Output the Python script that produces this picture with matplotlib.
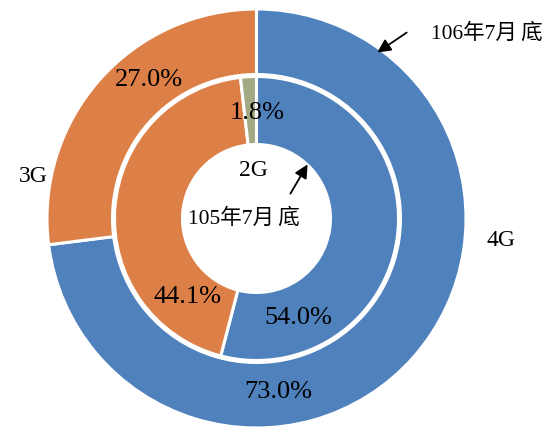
import matplotlib
matplotlib.use('Agg')
import matplotlib.pyplot as plt

# 106年7月底 (outer) / 105年7月底 (inner)
outer_labels = ['4G', '3G']
outer_values = [73.0, 27.0]
inner_labels = ['4G', '3G', '2G']
inner_values = [54.0, 44.1, 1.8]

BLUE = '#4F81BD'
ORANGE = '#DD8047'
GREEN = '#A3AA83'
FONT = ['Liberation Serif', 'Noto Sans CJK TC']

W, H = 555, 430
CX, CY = 256.5, H - 218.5


def Y(py):
    return H - py


fig = plt.figure(figsize=(W / 100, H / 100), dpi=100)
ax = fig.add_axes([0, 0, 1, 1])

ax.pie(outer_values, radius=209.5, center=(CX, CY), startangle=90,
       counterclock=False, colors=[BLUE, ORANGE], frame=True,
       wedgeprops=dict(width=65.5, edgecolor='white', linewidth=2.2))
ax.pie(inner_values, radius=142, center=(CX, CY), startangle=90,
       counterclock=False, colors=[BLUE, ORANGE, GREEN], frame=True,
       wedgeprops=dict(width=68, edgecolor='white', linewidth=2.2))

ax.set_xlim(0, W)
ax.set_ylim(0, H)
ax.set_aspect('auto')
ax.axis('off')

pct = dict(fontsize=19, family=FONT, ha='center', va='center')
ax.text(278, Y(392), f'{outer_values[0]:.1f}%', **pct)
ax.text(149, Y(80), f'{outer_values[1]:.1f}%', **pct)
ax.text(298, Y(318), f'{inner_values[0]:.1f}%', **pct)
ax.text(188, Y(297), f'{inner_values[1]:.1f}%', **pct)
ax.text(257, Y(113), f'{inner_values[2]:.1f}%', **pct)

lab = dict(fontsize=17, family=FONT, ha='center', va='center')
ax.text(501, Y(240), outer_labels[0], **lab)
ax.text(33, Y(177), outer_labels[1], **lab)
ax.text(253, Y(170), inner_labels[2], **lab)

cap = dict(fontsize=15.5, family=FONT, ha='center', va='center')
ax.text(487, Y(33), '106年7月\u2009底', **cap)
ax.text(244, Y(218), '105年7月\u2009底', **cap)

arrow = dict(arrowstyle='-|>', color='black', lw=1.3, mutation_scale=20)
ax.annotate('', xy=(375, Y(54)), xytext=(409, Y(31)), arrowprops=arrow)
ax.annotate('', xy=(309, Y(162)), xytext=(289, Y(196)), arrowprops=arrow)

fig.savefig('out.png', dpi=100)
